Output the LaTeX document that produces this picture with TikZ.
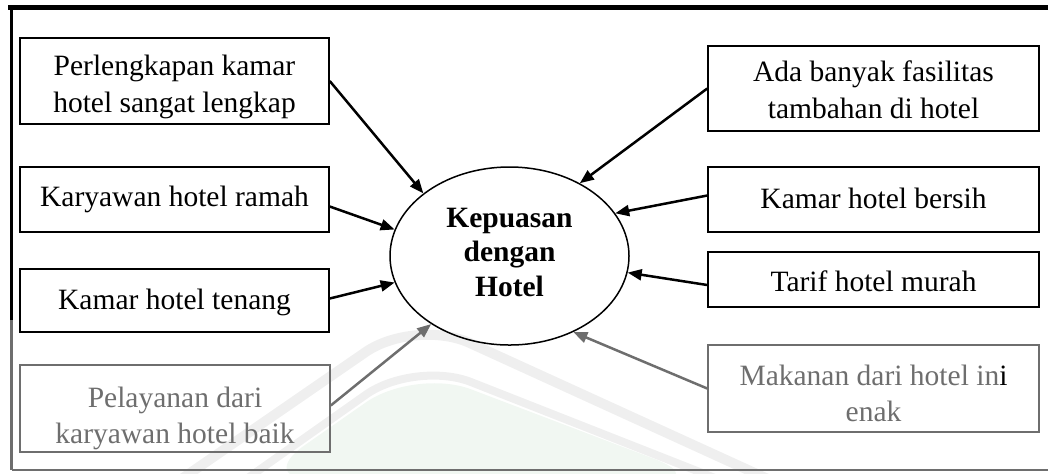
\documentclass[tikz,border=0pt]{standalone}
\usepackage{fontspec}
\setmainfont{Liberation Serif}
\usetikzlibrary{shapes.geometric,arrows.meta}
\definecolor{fade}{HTML}{6E6E6E}
\definecolor{markgreen}{HTML}{F1F7F2}
\definecolor{markgray}{HTML}{EFEFEF}
\begin{document}
\begin{tikzpicture}[x=0.5pt,y=-0.5pt,
  txt/.style={font=\fontsize{14.75pt}{18.25pt}\selectfont, align=center, inner sep=0pt},
  box/.style={draw, line width=0.75pt, inner sep=0pt},
  fadebox/.style={box, draw=fade},
  fadetxt/.style={txt, text=fade},
  arr/.style={line width=1.25pt, -{Triangle[length=7pt,width=5.5pt]}},
  fadearr/.style={arr, fade}]
\useasboundingbox (0,0) rectangle (1048,473);

% faint background emblem
\begin{scope}
  \clip (0,0) rectangle (1048,473);
  \fill[markgreen, rounded corners=30pt] (255,480) -- (415,368) -- (710,480) -- cycle;
  \draw[markgray, line width=5pt, rounded corners=30pt] (180,480) -- (415,318) -- (770,480);
  \draw[markgray, line width=4pt, rounded corners=30pt] (245,480) -- (415,360) -- (720,480);
\end{scope}

% outer frame
\draw[line width=2.5pt] (8,7.5) -- (1048,7.5);
\draw[line width=1.75pt] (11.5,6.5) -- (11.5,320);
\draw[fade, line width=1.75pt] (11.5,320) -- (11.5,470);
\draw[fade, line width=0.75pt] (11.5,470) -- (1048,470);

% central construct
\node[draw, ellipse, line width=0.75pt, inner sep=0pt,
      minimum width=119.5pt, minimum height=89pt] (e) at (509.5,256) {};
\node[font=\bfseries\fontsize{14.75pt}{17.25pt}\selectfont, align=center, inner sep=0pt]
      (et) at (509.5,252) {Kepuasan\\dengan\\Hotel};

% indicator boxes, left column
\node[box, minimum width=154.5pt, minimum height=43pt] (b1) at (174.5,81) {};
\node[txt] (b1t) at (174.5,87) {Perlengkapan kamar\\hotel sangat lengkap};
\node[box, minimum width=154.5pt, minimum height=32.5pt] (b2) at (174.5,199.5) {};
\node[txt] (b2t) at (174.5,199.5) {Karyawan hotel ramah};
\node[box, minimum width=154.5pt, minimum height=31.5pt] (b3) at (174.5,300.5) {};
\node[txt] (b3t) at (174.5,302) {Kamar hotel tenang};
\node[fadebox, minimum width=155pt, minimum height=43.5pt] (b4) at (175,408.5) {};
\node[fadetxt] (b4t) at (175,418.5) {Pelayanan dari\\karyawan hotel baik};

% indicator boxes, right column
\node[box, minimum width=165.5pt, minimum height=42.5pt] (r1) at (873.5,88.5) {};
\node[txt] (r1t) at (873.5,89.5) {Ada banyak fasilitas\\tambahan di hotel};
\node[box, minimum width=165.5pt, minimum height=32.5pt] (r2) at (873.5,199.5) {};
\node[txt] (r2t) at (873.5,198) {Kamar hotel bersih};
\node[box, minimum width=165.5pt, minimum height=27.5pt] (r3) at (873.5,279.5) {};
\node[txt] (r3t) at (873.5,281) {Tarif hotel murah};
\node[fadebox, minimum width=165.5pt, minimum height=43.5pt] (r4) at (873.5,388.5) {};
\node[fadetxt] (r4t) at (873.5,393.5) {Makanan dari hotel in{\color{black}i}\\enak};

% connectors
\draw[arr] (b1.east) -- (e.144);
\draw[arr] ([yshift=-3.5pt]b2.east) -- (e.167.7);
\draw[arr] ([yshift=1pt]b3.east) -- (e.193.7);
\draw[fadearr] ([yshift=1.5pt]b4.east) -- (e.221.4);
\draw[arr] (r1.west) -- (e.46);
\draw[arr] ([yshift=2pt]r2.west) -- (e.22.8);
\draw[arr] ([yshift=-2.75pt]r3.west) -- (e.-8.6);
\draw[fadearr] (r4.west) -- (e.-50);
\end{tikzpicture}
\end{document}
